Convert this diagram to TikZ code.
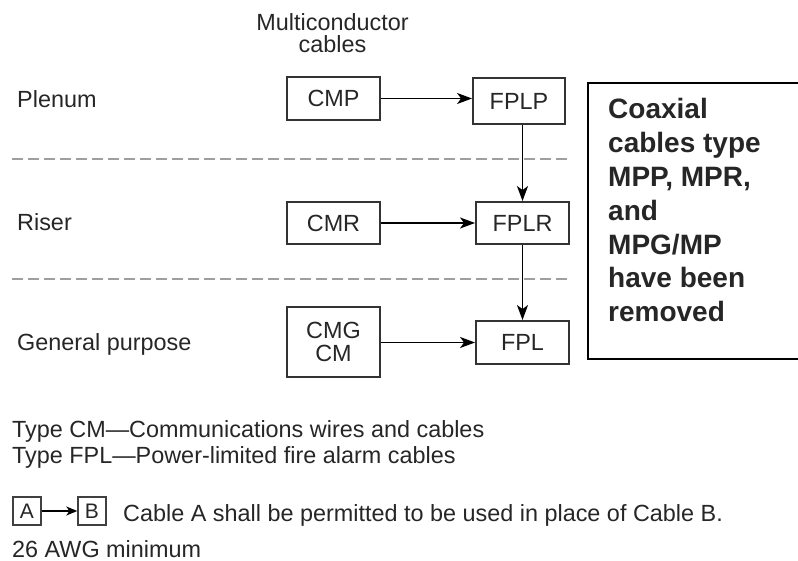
\documentclass[tikz,border=0pt]{standalone}
\usepackage{fontspec}
\setmainfont{Liberation Sans}
\newfontfamily\boldbox{Liberation Sans Bold}
\usetikzlibrary{arrows.meta,calc}
\begin{document}
\begin{tikzpicture}[x=1pt,y=-1pt,
  every node/.style={font=\fontsize{23.4}{26}\selectfont, text=black!85},
  cable/.style={draw=black!80, line width=1.9pt, inner sep=0pt, minimum width=93pt, minimum height=43pt, align=center},
  link/.style={line width=1.8pt, -{Stealth[length=15pt,width=11pt,inset=4pt]}},
  level/.style={gray!75, line width=1.6pt, dash pattern=on 11pt off 5pt},
  legendbox/.style={draw=black!75, line width=1.4pt, minimum width=28pt, minimum height=28pt, inner sep=0pt, font=\fontsize{21}{24}\selectfont},
  label/.style={anchor=base west, inner sep=0pt}]
\useasboundingbox (0,0) rectangle (798,561);

% header
\node[anchor=base, inner sep=0pt, font=\fontsize{23.4}{22}\selectfont] (head) at (332.5,31)
  {\parbox[t]{220pt}{\centering Multiconductor\\cables}};

% row labels
\node[label] (plenum) at (17,108) {Plenum};
\node[label] (riser) at (17,231) {Riser};
\node[label] (general) at (17,350) {General purpose};

% dashed separators
\draw[level] (12,159) -- (567,159);
\draw[level] (12,279) -- (567,279);

% boxes
\node[cable] (CMP) at (333.5,98.5) {CMP};
\node[cable, minimum width=92pt, minimum height=46pt] (FPLP) at (519,101) {FPLP};
\node[cable, minimum height=42pt] (CMR) at (333.5,223) {CMR};
\node[cable, minimum height=42pt] (FPLR) at (522.5,223) {FPLR};
\node[cable, minimum height=70pt, font=\fontsize{23.4}{23}\selectfont] (CMG) at (333.5,342) {CMG\\CM};
\node[cable] (FPL) at (522.5,342.5) {FPL};

% connectors
\draw[link] (CMP.east) -- (CMP.east -| FPLP.west);
\draw[link] (CMR.east) -- (CMR.east -| FPLR.west);
\draw[link] (CMG.east |- FPL.west) -- (FPL.west);
\draw[link] (FPLR.north |- FPLP.south) -- (FPLR.north);
\draw[link] (FPLR.south) -- (FPL.north);

% note box (its right side runs off the picture)
\node[draw=black, line width=2pt, anchor=north west, minimum width=240pt, minimum height=276pt, inner sep=0pt] (frame) at (587,82) {};
\node[anchor=base west, inner sep=0pt] (note) at (608,119)
  {\parbox[t]{185pt}{\raggedright\boldbox\fontsize{28}{33.8}\selectfont Coaxial\\cables type\\MPP, MPR,\\and\\MPG/MP\\have been\\removed}};

% legend
\node[label] (typecm) at (12,437) {Type CM—Communications wires and cables};
\node[label] (typefpl) at (12,463) {Type FPL—Power-limited fire alarm cables};
\node[legendbox] (A) at (27,511) {A};
\node[legendbox] (B) at (92,511) {B};
\draw[line width=1.3pt, -{Stealth[length=11pt,width=9pt,inset=3pt]}] (A.east) -- (B.west);
\node[label] (rule) at (123,521) {Cable A shall be permitted to be used in place of Cable B.};
\node[label] (awg) at (12,557) {26 AWG minimum};
\end{tikzpicture}
\end{document}
